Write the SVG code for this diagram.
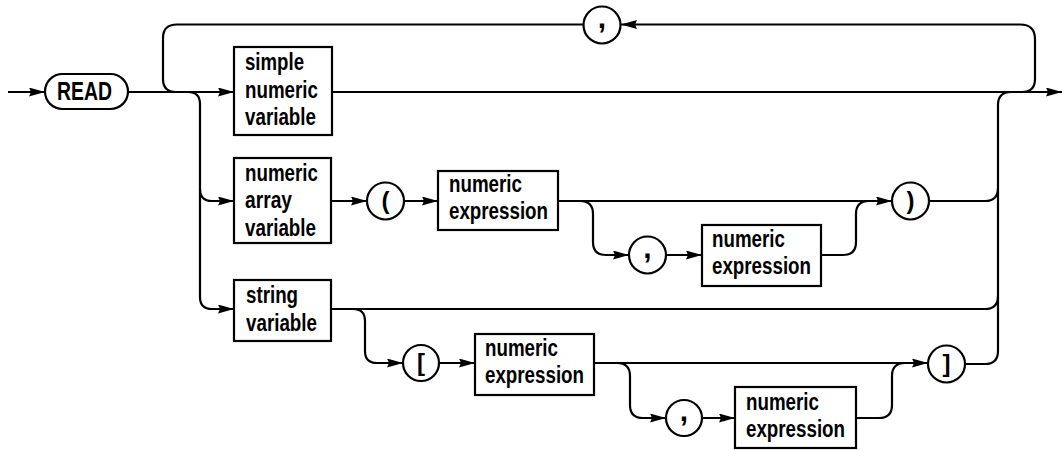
<svg xmlns="http://www.w3.org/2000/svg" width="1062" height="450" viewBox="0 0 1062 450">
<defs>
<marker id="arr" markerUnits="userSpaceOnUse" viewBox="0 0 16 9" markerWidth="16" markerHeight="9" refX="16" refY="4.5" orient="auto">
<path d="M0,0 L16,4.5 L0,9 L2,4.5 z" fill="#000"/>
</marker>
<style>
.box{fill:#fff;stroke:#000;stroke-width:2.2}
.t{font-family:"Liberation Sans",Arial,sans-serif;font-weight:bold;font-size:23px;fill:#000}
.sym{font-family:"Liberation Sans",Arial,sans-serif;font-weight:bold;font-size:24px;fill:#000;text-anchor:middle}
.cm{font-family:"Liberation Sans",Arial,sans-serif;font-weight:bold;font-size:30px;fill:#000;text-anchor:middle}
.c path{fill:none;stroke:#000;stroke-width:2.2}
.a{marker-end:url(#arr)}
</style>
</defs>
<rect width="1062" height="450" fill="#fff"/>
<g id="connectors" class="c">
<path class="a" d="M8,92 H45"/>
<path class="a" d="M128,92 H234"/>
<path class="a" d="M332,92 H1062"/>
<path class="a" d="M1022,92 Q1035,92 1035,79 V39 Q1035,24.5 1020,24.5 H621"/>
<path d="M584,24.5 H177 Q163,24.5 163,38 V79 Q163,92 176,92"/>
<path class="a" d="M188,92 Q200,92 200,104 V189 Q200,201 212,201 H234"/>
<path class="a" d="M200,189 V297 Q200,309 212,309 H234"/>
<path class="a" d="M331,201 H367"/>
<path class="a" d="M404,201 H438"/>
<path class="a" d="M558,201 H892"/>
<path class="a" d="M580,201 Q593,201 593,214 V242 Q593,255 606,255 H629"/>
<path class="a" d="M666,255 H702"/>
<path d="M821,255 H843 Q856,255 856,242 V214 Q856,201 869,201"/>
<path d="M929,201 H985 Q998,201 998,188"/>
<path d="M1011,92 Q998,92 998,105 V351 Q998,364 985,364 H965"/>
<path d="M331,309 H985 Q998,309 998,296"/>
<path class="a" d="M353,309 Q365,309 365,321 V351 Q365,363 377,363 H403"/>
<path class="a" d="M439,363 H475"/>
<path class="a" d="M594,363 H928"/>
<path class="a" d="M617,363 Q630,363 630,376 V405 Q630,418 643,418 H666"/>
<path class="a" d="M702,418 H735"/>
<path d="M856,418 H879 Q892,418 892,405 V376 Q892,363 905,363"/>
</g>
<g id="read">
<rect class="box" x="45" y="74" width="83" height="35" rx="17.5"/>
<text class="t" x="57" y="100" style="font-size:25px" textLength="55" lengthAdjust="spacingAndGlyphs">READ</text>
</g>
<g id="simple-numeric-variable">
<rect class="box" x="234" y="47" width="98" height="88"/>
<text class="t" x="245" y="70" textLength="59" lengthAdjust="spacingAndGlyphs">simple</text>
<text class="t" x="245" y="98" textLength="73" lengthAdjust="spacingAndGlyphs">numeric</text>
<text class="t" x="245" y="125" textLength="71" lengthAdjust="spacingAndGlyphs">variable</text>
</g>
<g id="numeric-array-variable">
<rect class="box" x="234" y="158" width="97" height="85"/>
<text class="t" x="245" y="181" textLength="73" lengthAdjust="spacingAndGlyphs">numeric</text>
<text class="t" x="245" y="208" textLength="47" lengthAdjust="spacingAndGlyphs">array</text>
<text class="t" x="245" y="236" textLength="71" lengthAdjust="spacingAndGlyphs">variable</text>
</g>
<g id="string-variable">
<rect class="box" x="234" y="280" width="97" height="61"/>
<text class="t" x="246" y="303" textLength="52" lengthAdjust="spacingAndGlyphs">string</text>
<text class="t" x="246" y="331" textLength="71" lengthAdjust="spacingAndGlyphs">variable</text>
</g>
<g id="comma-top">
<circle class="box" cx="602" cy="25" r="18.5"/>
<text class="cm" x="602" y="28">,</text>
</g>
<g id="lparen">
<circle class="box" cx="385.5" cy="201" r="18.5"/>
<text class="sym" x="385.5" y="209">(</text>
</g>
<g id="numexpr1">
<rect class="box" x="438" y="171" width="120" height="59"/>
<text class="t" x="449" y="192" textLength="73" lengthAdjust="spacingAndGlyphs">numeric</text>
<text class="t" x="449" y="219" textLength="99" lengthAdjust="spacingAndGlyphs">expression</text>
</g>
<g id="comma-paren">
<circle class="box" cx="647.5" cy="255" r="18.5"/>
<text class="cm" x="647.5" y="258">,</text>
</g>
<g id="numexpr2">
<rect class="box" x="702" y="225" width="119" height="61"/>
<text class="t" x="712" y="247" textLength="73" lengthAdjust="spacingAndGlyphs">numeric</text>
<text class="t" x="712" y="274" textLength="99" lengthAdjust="spacingAndGlyphs">expression</text>
</g>
<g id="rparen">
<circle class="box" cx="910.5" cy="201" r="18.5"/>
<text class="sym" x="910.5" y="209">)</text>
</g>
<g id="lbracket">
<circle class="box" cx="421" cy="363" r="18"/>
<text class="sym" x="421" y="371">[</text>
</g>
<g id="numexpr3">
<rect class="box" x="475" y="334" width="119" height="61"/>
<text class="t" x="485" y="356" textLength="73" lengthAdjust="spacingAndGlyphs">numeric</text>
<text class="t" x="485" y="383" textLength="99" lengthAdjust="spacingAndGlyphs">expression</text>
</g>
<g id="comma-bracket">
<circle class="box" cx="684" cy="418" r="18"/>
<text class="cm" x="684" y="421">,</text>
</g>
<g id="numexpr4">
<rect class="box" x="735" y="387" width="121" height="61"/>
<text class="t" x="746" y="410" textLength="73" lengthAdjust="spacingAndGlyphs">numeric</text>
<text class="t" x="746" y="437" textLength="99" lengthAdjust="spacingAndGlyphs">expression</text>
</g>
<g id="rbracket">
<circle class="box" cx="946.5" cy="364" r="18.5"/>
<text class="sym" x="946.5" y="372">]</text>
</g>
</svg>
